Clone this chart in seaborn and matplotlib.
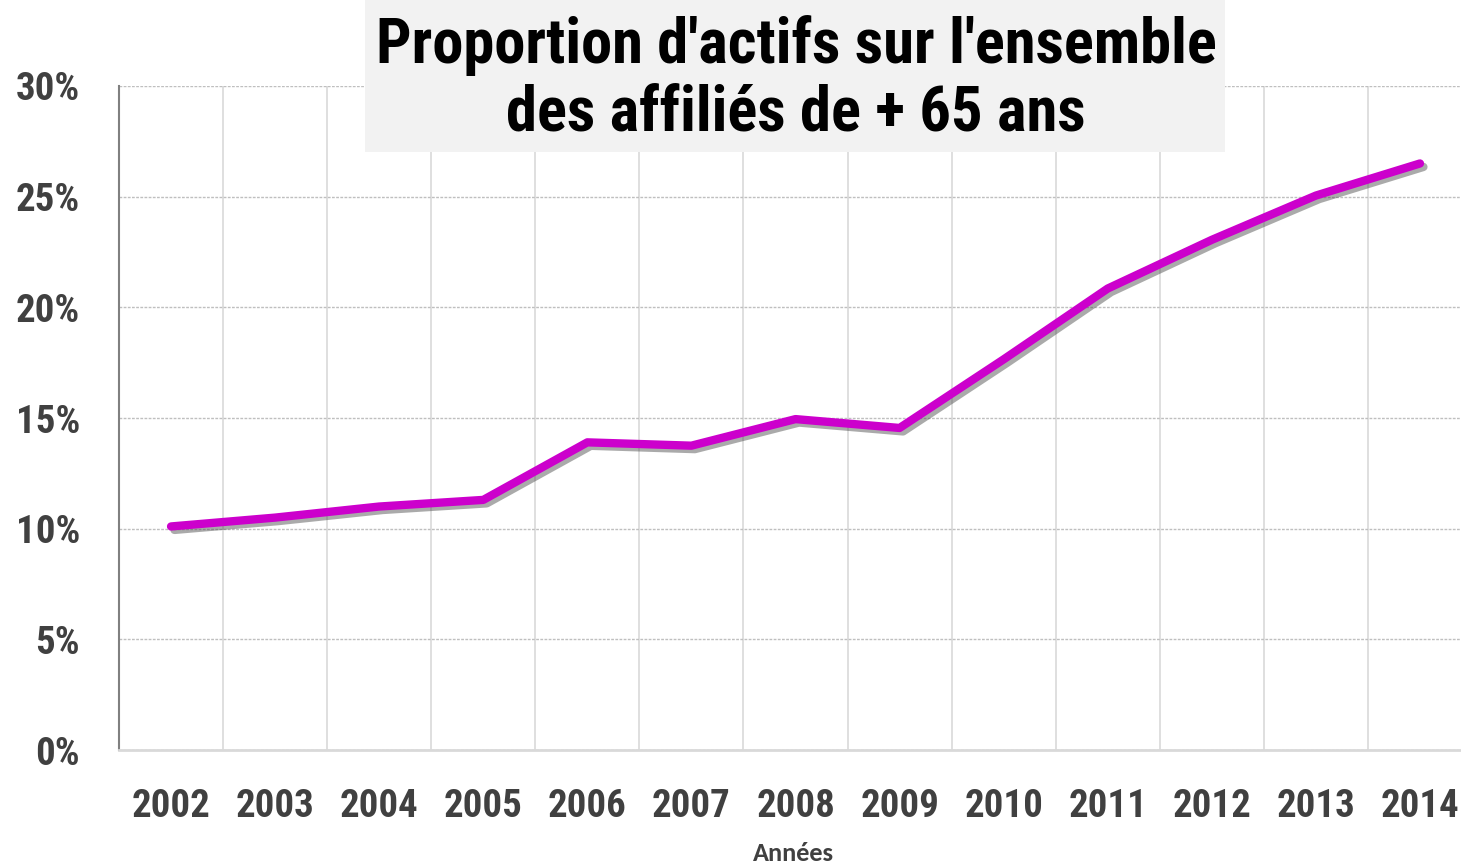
import matplotlib
matplotlib.use("Agg")
import matplotlib.pyplot as plt
import matplotlib.patheffects as pe
from matplotlib.patches import Rectangle
from matplotlib.ticker import PercentFormatter, MultipleLocator
import seaborn as sns
import pandas as pd

# données
annees = ['2002', '2003', '2004', '2005', '2006', '2007', '2008',
          '2009', '2010', '2011', '2012', '2013', '2014']
proportion = [10.1, 10.5, 11.0, 11.3, 13.9, 13.75, 14.95,
              14.55, 17.65, 20.85, 23.05, 25.05, 26.5]

titre = "Proportion d'actifs sur l'ensemble\ndes affiliés de + 65 ans"

df = pd.DataFrame({'annee': annees, 'proportion': proportion})

sns.set_style('white')
plt.rcParams['font.family'] = ['Roboto Condensed', 'DejaVu Sans']

fig = plt.figure(figsize=(14.61, 8.63), dpi=100)
ax = fig.add_axes([119/1461, 113/863, 1353/1461, 664/863])

sns.lineplot(data=df, x='annee', y='proportion', ax=ax, sort=False,
             color='#CC00CC', linewidth=6, solid_capstyle='round',
             path_effects=[pe.SimpleLineShadow(offset=(2.5, -2.5), shadow_color='#444444', alpha=0.45),
                           pe.Normal()])

ax.set_xlim(-0.5, len(annees) - 0.5)
ax.set_ylim(0, 30)
ax.yaxis.set_major_locator(MultipleLocator(5))
ax.yaxis.set_major_formatter(PercentFormatter(decimals=0))

# grille : verticales pleines entre catégories, horizontales pointillées
for i in range(len(annees)):
    ax.axvline(i + 0.5, color='#D9D9D9', lw=1.2, zorder=0)
ax.grid(axis='y', color='#BFBFBF', linestyle=(0, (2, 1)), lw=1, zorder=0)
ax.set_axisbelow(True)

for s in ['top', 'right']:
    ax.spines[s].set_visible(False)
ax.spines['left'].set_color('#808080')
ax.spines['left'].set_linewidth(1.5)
ax.spines['bottom'].set_color('#D9D9D9')
ax.spines['bottom'].set_linewidth(2)

ax.tick_params(axis='both', length=0, labelsize=28, labelcolor='#404040')
ax.tick_params(axis='y', pad=28)
ax.tick_params(axis='x', pad=27)
for lab in ax.get_xticklabels() + ax.get_yticklabels():
    lab.set_fontweight('bold')
ax.set_xlabel('')
ax.set_ylabel('')

fig.text(793/1461, 1 - 861/863, 'Années', ha='center', va='baseline',
         fontsize=19, fontweight='bold', color='#404040', family=['Carlito', 'DejaVu Sans'])

# encadré du titre
fig.patches.append(Rectangle((365/1461, 1 - 152/863), 860/1461, 152/863,
                             transform=fig.transFigure, facecolor='#F2F2F2',
                             edgecolor='none', zorder=2))
fig.text(796/1461, 1 - 79/863, titre, ha='center', va='center', fontsize=45,
         fontweight='bold', color='black', linespacing=1.15, zorder=3)

plt.savefig('out.png', dpi=100)
